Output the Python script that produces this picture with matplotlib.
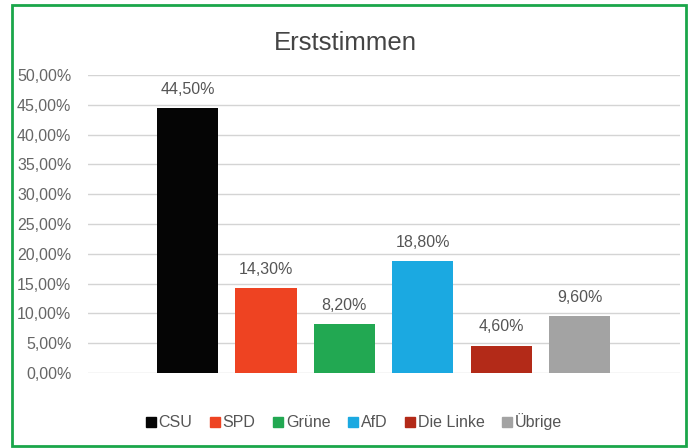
import matplotlib.pyplot as plt
from matplotlib.patches import Rectangle
from matplotlib.lines import Line2D

# data
parties = ["CSU", "SPD", "Grüne", "AfD", "Die Linke", "Übrige"]
votes = [44.5, 14.3, 8.2, 18.8, 4.6, 9.6]
colors = ["#050505", "#ee4322", "#22a852", "#1ba9e1", "#b32a18", "#a3a3a3"]
yticks = [0, 5, 10, 15, 20, 25, 30, 35, 40, 45, 50]

plt.rcParams['font.family'] = ['Liberation Sans', 'DejaVu Sans']

fig = plt.figure(figsize=(6.9, 4.48), dpi=100)
ax = fig.add_axes([0.1275, 0.1674, 0.858, 0.6652])

x = list(range(len(parties)))
ax.bar(x, votes, width=0.78, color=colors, zorder=3)

# value labels
for xi, v in zip(x, votes):
    ax.annotate("{:.2f}%".format(v).replace(".", ","), (xi, v), xytext=(0, 8),
                textcoords="offset points", ha="center", va="bottom",
                fontsize=11.5, color="#555555")

ax.set_ylim(0, 50)
ax.set_xlim(-1.27, 6.28)
ax.set_yticks(yticks)
ax.set_yticklabels(["{:.2f}%".format(t).replace(".", ",") for t in yticks],
                   fontsize=11.5, color="#666666")
ax.set_xticks([])
ax.tick_params(axis="y", length=0, pad=12)
ax.grid(axis="y", color="#d4d4d4", linewidth=1, zorder=0)
for s in ax.spines.values():
    s.set_visible(False)

fig.text(0.5, 0.905, "Erststimmen", ha="center", va="center",
         fontsize=18.5, color="#444444")

handles = [Line2D([], [], marker="s", linestyle="", markersize=7,
                  markerfacecolor=c, markeredgecolor=c) for c in colors]
fig.legend(handles, parties, loc="center", bbox_to_anchor=(0.512, 0.058),
           ncol=6, frameon=False, fontsize=11.5, handletextpad=0.1,
           handlelength=0.8, columnspacing=1.0, labelcolor="#555555")

# green frame
fig.patches.append(Rectangle((12 / 690, 2 / 448), 674 / 690, 441 / 448,
                             transform=fig.transFigure, fill=False,
                             edgecolor="#1aa64a", linewidth=2))

plt.savefig("out.png", dpi=100)
